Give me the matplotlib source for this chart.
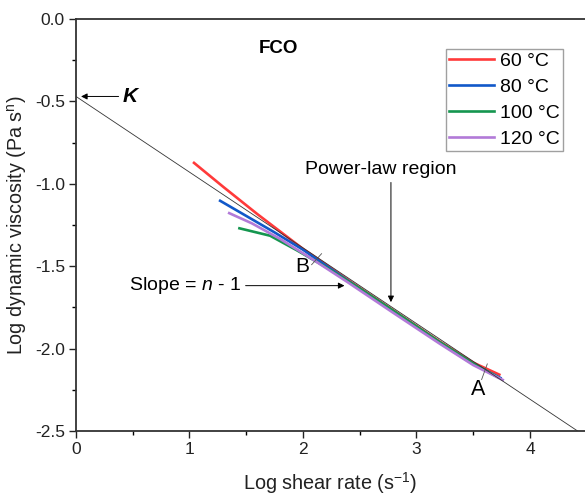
import numpy as np
import matplotlib.pyplot as plt

plt.rcParams['font.family'] = ['Liberation Sans', 'DejaVu Sans']
plt.rcParams['mathtext.fontset'] = 'custom'
plt.rcParams['mathtext.rm'] = 'Liberation Sans'
plt.rcParams['mathtext.it'] = 'Liberation Sans:italic'

# Data (log shear rate, log viscosity)
x60 = [1.04, 1.30, 1.60, 2.00, 2.40, 2.80, 3.20, 3.50, 3.73]
y60 = [-0.873, -1.020, -1.185, -1.395, -1.585, -1.770, -1.955, -2.085, -2.158]
x80 = [1.27, 1.50, 1.75, 2.00, 2.40, 2.80, 3.20, 3.50, 3.74]
y80 = [-1.103, -1.195, -1.295, -1.400, -1.590, -1.777, -1.962, -2.095, -2.178]
x100 = [1.44, 1.71, 1.95, 2.20, 2.50, 2.80, 3.20, 3.50, 3.72]
y100 = [-1.270, -1.315, -1.405, -1.505, -1.635, -1.772, -1.958, -2.090, -2.175]
x120 = [1.35, 1.55, 1.80, 2.10, 2.40, 2.80, 3.20, 3.50, 3.76]
y120 = [-1.178, -1.240, -1.335, -1.465, -1.600, -1.785, -1.968, -2.100, -2.190]
labels = ['60 °C', '80 °C', '100 °C', '120 °C']
colors = ['#ff3a3a', '#1158c9', '#15964f', '#b27ad8']

# Power-law fit line: log K and slope n-1
logK = -0.47
slope = -0.4593
xfit = np.array([0.0, (-2.5 - logK) / slope])

fig = plt.figure(figsize=(5.85, 4.94), dpi=100)
ax = fig.add_axes([76 / 585, 1 - 431 / 494, 509 / 585, 412 / 494])

for xs, ys, lab, c in zip([x60, x80, x100, x120], [y60, y80, y100, y120], labels, colors):
    ax.plot(xs, ys, color=c, lw=1.9, label=lab, zorder=2)
ax.plot(xfit, logK + slope * xfit, color='#333333', lw=0.6, zorder=3)

ax.set_xlim(0, 4.485)
ax.set_ylim(-2.5, 0.0)
ax.set_xticks([0, 1, 2, 3, 4])
ax.set_xticks([0.5, 1.5, 2.5, 3.5], minor=True)
ax.set_yticks([0.0, -0.5, -1.0, -1.5, -2.0, -2.5])
ax.set_yticks([-0.25, -0.75, -1.25, -1.75, -2.25], minor=True)
ax.set_yticklabels(['0.0', '-0.5', '-1.0', '-1.5', '-2.0', '-2.5'])
ax.tick_params(which='major', direction='out', length=5, width=1.0, labelsize=12.5,
               colors='#222222', pad=3)
ax.tick_params(which='minor', direction='out', length=3, width=1.0)
ax.spines['right'].set_visible(False)
for s in ['left', 'bottom', 'top']:
    ax.spines[s].set_linewidth(1.3)
    ax.spines[s].set_color('#333333')

ax.set_xlabel('Log shear rate (s$^{-1}$)', fontsize=14.3, color='#222222', labelpad=9)
ax.set_ylabel('Log dynamic viscosity (Pa s$^{\\mathrm{n}}$)', fontsize=14.2, color='#222222',
              labelpad=4)

leg = ax.legend(loc='upper right', bbox_to_anchor=(0.957, 0.927), fontsize=14, frameon=True,
                fancybox=False, handlelength=2.3, handletextpad=0.3, labelspacing=0.42,
                borderpad=0.18, borderaxespad=0)
leg.get_frame().set_edgecolor('#888888')
leg.get_frame().set_linewidth(1.0)

ax.text(1.78, -0.176, 'FCO', fontsize=13.5, fontweight='bold', ha='center', va='center')

# K annotation
ax.annotate('', xy=(0.02, logK), xytext=(0.40, logK),
            arrowprops=dict(arrowstyle='-|>', color='black', lw=0.7, mutation_scale=9))
ax.text(0.41, logK, 'K', fontsize=15, fontweight='bold', style='italic', ha='left', va='center')

# Power-law region
ax.text(2.687, -0.915, 'Power-law region', fontsize=14, ha='center', va='center')
ax.annotate('', xy=(2.775, -1.735), xytext=(2.775, -0.975),
            arrowprops=dict(arrowstyle='-|>', color='black', lw=0.7, mutation_scale=9))

# Slope annotation
ax.text(0.47, -1.618, 'Slope = $\\mathit{n}$ - 1', fontsize=14, ha='left', va='center')
ax.annotate('', xy=(2.39, -1.618), xytext=(1.47, -1.618),
            arrowprops=dict(arrowstyle='-|>', color='black', lw=0.7, mutation_scale=9))

# Region limits
ax.plot([2.076, 2.164], [-1.491, -1.424], color='#555555', lw=0.6)
ax.text(1.99, -1.50, 'B', fontsize=15, ha='center', va='center')
ax.plot([3.574, 3.624], [-2.188, -2.093], color='#555555', lw=0.6)
ax.text(3.545, -2.25, 'A', fontsize=15.5, ha='center', va='center')

fig.savefig('out.png', dpi=100)
